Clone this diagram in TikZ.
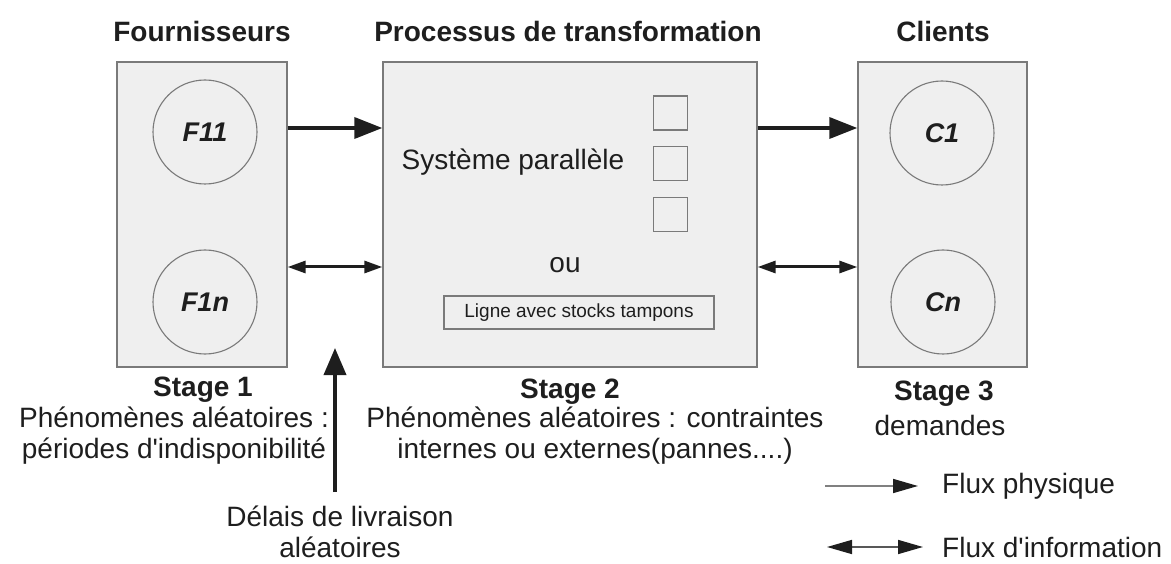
\documentclass[tikz,border=0pt]{standalone}
\usepackage{fontspec}
\setmainfont{Liberation Sans}
\usetikzlibrary{arrows.meta}
\definecolor{ink}{HTML}{1E1E1E}
\definecolor{panel}{HTML}{EFEFEF}
\definecolor{rim}{HTML}{7A7A7A}
\newcommand{\apos}{\textquotesingle}
\tikzset{
  x=1pt, y=-1pt,
  every node/.style={text=ink, inner sep=0pt},
  txt/.style={font=\fontsize{28}{31}\selectfont, align=center},
  ttl/.style={font=\fontsize{28}{34}\selectfont\bfseries},
  stagebox/.style={draw=rim, line width=1.3pt, fill=panel, minimum height=305pt},
  actor/.style={circle, draw=rim, line width=1.1pt, minimum size=104pt,
                font=\fontsize{27}{30}\selectfont\bfseries\itshape},
  unit/.style={draw=rim, line width=1.1pt, minimum size=34pt},
  phys/.style={draw=ink, line width=3.5pt, -{Triangle[length=28pt,width=21pt]}},
  info/.style={draw=ink, line width=3pt,
               {Triangle[length=18pt,width=12pt]}-{Triangle[length=18pt,width=12pt]}},
  legtip/.style={},
}
\begin{document}
\begin{tikzpicture}
\useasboundingbox (0,0) rectangle (1171,564);

% three stages
\node[stagebox, minimum width=170pt] (boxF) at (202,214.5) {};
\node[stagebox, minimum width=374pt] (boxP) at (570,214.5) {};
\node[stagebox, minimum width=169pt] (boxC) at (942.5,214.5) {};

% titles
\node[ttl] (tF) at (202,31) {Fournisseurs};
\node[ttl] (tP) at (568,31) {Processus de transformation};
\node[ttl] (tC) at (943,31) {Clients};

% suppliers and clients
\node[actor] (f11) at (205,132) {F11};
\node[actor] (f1n) at (205,302) {F1n};
\node[actor] (c1)  at (942,133) {C1};
\node[actor] (cn)  at (943,302) {Cn};

% transformation process content
\node[txt, anchor=center] (sys) at (513,162) {Système parallèle};
\node[unit] (u1) at (670.5,113) {};
\node[unit] (u2) at (670.5,163.5) {};
\node[unit] (u3) at (670.5,214.5) {};
\node[txt] (ou) at (565,265) {ou};
\node[draw=rim, line width=1.1pt, minimum width=270pt, minimum height=33pt,
      font=\fontsize{19}{22}\selectfont] (line) at (579,312.5) {Ligne avec stocks tampons};

% flows between stages
\coordinate (toprow) at (0,128);
\coordinate (lowrow) at (0,267);
\draw[phys] (boxF.east |- toprow) -- (boxP.west |- toprow);
\draw[phys] (boxP.east |- toprow) -- (boxC.west |- toprow);
\draw[info] (boxF.east |- lowrow) -- (boxP.west |- lowrow);
\draw[info] (boxP.east |- lowrow) -- (boxC.west |- lowrow);

% stage captions
\node[ttl] (s1) at (203,390) {Stage 1};
\node[txt] (s1d) at (174,436) {Phénomènes aléatoires :\\périodes d\apos indisponibilité};
\node[ttl] (s2) at (570,392) {Stage 2};
\node[txt] (s2d) at (595,436) {Phénomènes aléatoires : contraintes\\internes ou externes(pannes....)};
\node[ttl] (s3) at (944,394) {Stage 3};
\node[txt] (s3d) at (940,425) {demandes};

% random delivery delays
\node[txt] (del) at (340,532) {Délais de livraison\\aléatoires};
\coordinate (delfoot) at (335,492);
\coordinate (deltip) at (335,348);
\draw[draw=ink, line width=3.6pt, -{Triangle[length=27pt,width=22pt]}] (delfoot) -- (deltip);

% legend
\node[txt, anchor=west] (lgp) at (942,486) {Flux physique};
\node[txt, anchor=west] (lgi) at (942,547) {Flux d\apos information};
\coordinate (lgpa) at (825,486);
\coordinate (lgpb) at (918,486);
\draw[draw=gray, line width=1.6pt, -{Triangle[length=25pt,width=14pt,color=ink]}] (lgpa) -- (lgpb);
\coordinate (lgia) at (827,547);
\coordinate (lgib) at (923,547);
\draw[draw=gray!60!ink, line width=1.6pt,
      {Triangle[length=25pt,width=14pt,color=ink]}-{Triangle[length=25pt,width=14pt,color=ink]}] (lgia) -- (lgib);
\end{tikzpicture}
\end{document}
